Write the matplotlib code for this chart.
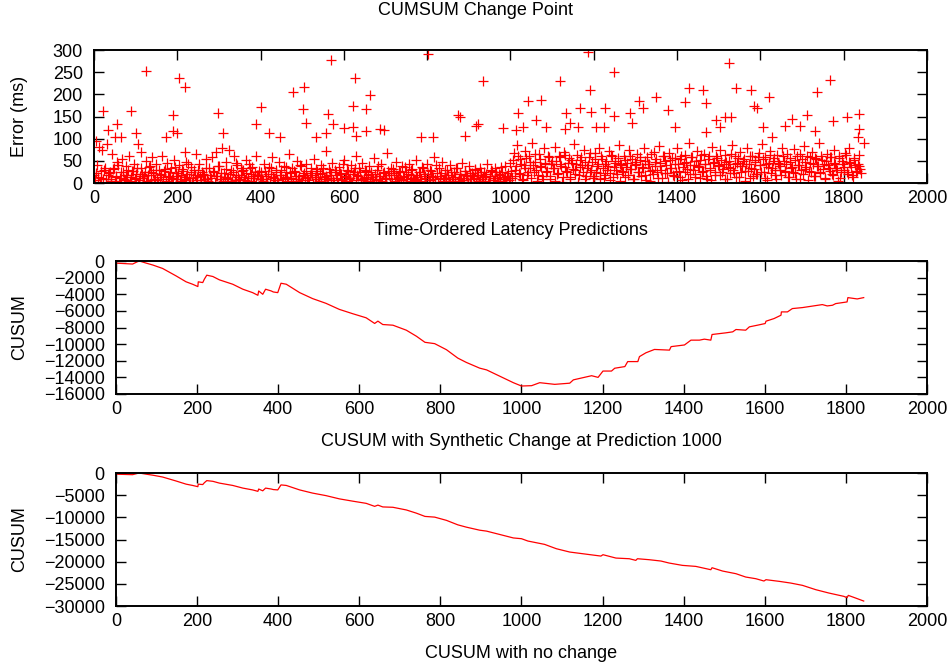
import matplotlib
matplotlib.use('Agg')
import matplotlib.pyplot as plt
import numpy as np

plt.rcParams['font.family'] = ['Liberation Sans', 'DejaVu Sans']
plt.rcParams['font.size'] = 13

# error scatter: dense band, one value every 4 predictions
band_a = [18, 95, 40, 82, 12, 75, 30, 8, 88, 22,
          5, 65, 35, 14, 48, 3, 26, 55, 9, 38,
          17, 60, 2, 28, 44, 11, 33, 6, 70, 20,
          15, 50, 4, 36, 25, 58, 10, 42, 7, 30,
          19, 62, 27, 1, 45, 13, 34, 9, 52, 23,
          16, 40, 5, 31, 8, 47, 21, 12, 37, 2,
          29, 66, 14, 43, 6, 24, 18, 55, 10, 35,
          3, 58, 26, 70, 15, 38, 8, 80, 22, 48,
          12, 74, 30, 5, 62, 19, 40, 9, 33, 27,
          14, 52, 4, 44, 21, 36, 11, 60, 17, 28]
band_b = [25, 8, 42, 15, 3, 36, 20, 58, 11, 30,
          6, 47, 18, 2, 39, 24, 12, 65, 9, 33,
          27, 4, 50, 16, 38, 7, 22, 44, 13, 1,
          35, 19, 55, 10, 28, 5, 41, 23, 14, 72,
          8, 31, 17, 46, 3, 26, 12, 37, 21, 6,
          53, 15, 29, 9, 40, 2, 24, 61, 18, 33,
          7, 45, 11, 27, 4, 38, 20, 14, 56, 8,
          30, 16, 43, 5, 25, 12, 68, 19, 34, 3,
          22, 48, 10, 28, 6, 39, 15, 24, 2, 44,
          17, 31, 9, 52, 13, 26, 4, 36, 21, 11,
          42, 7, 29, 16, 58, 3, 23, 35, 12, 47,
          8, 19, 30, 5, 40, 14, 25, 2, 33, 10,
          20, 45, 6, 27, 15, 38, 3, 22, 11, 30,
          18, 5, 35, 9, 24, 13, 42, 2, 16, 28,
          7, 33, 12, 20, 4, 26, 10, 38, 15, 6]
band_c = [45, 12, 68, 30, 85, 22, 55, 8, 40, 72,
          18, 60, 35, 90, 26, 48, 5, 66, 38, 15,
          78, 42, 28, 58, 10, 50, 33, 82, 20, 62,
          44, 3, 70, 36, 24, 56, 14, 46, 88, 30,
          64, 19, 52, 40, 75, 8, 34, 58, 26, 48,
          16, 68, 38, 80, 22, 54, 12, 44, 30, 72,
          6, 60, 36, 50, 20, 86, 42, 28, 62, 14,
          46, 74, 32, 55, 9, 40, 66, 24, 52, 36,
          78, 18, 58, 44, 4, 30, 70, 48, 26, 84,
          38, 12, 62, 50, 22, 68, 34, 56, 16, 42,
          80, 28, 54, 7, 46, 64, 32, 90, 20, 58,
          40, 14, 72, 36, 52, 24, 66, 44, 10, 60,
          30, 82, 48, 18, 56, 38, 74, 26, 42, 64,
          8, 50, 34, 86, 22, 60, 46, 14, 70, 38,
          54, 28, 78, 44, 12, 62, 32, 52, 20, 68,
          40, 88, 26, 58, 6, 46, 72, 34, 56, 18,
          64, 42, 30, 80, 50, 24, 66, 14, 48, 36,
          76, 22, 60, 40, 10, 54, 84, 32, 62, 28,
          46, 70, 16, 56, 38, 90, 26, 52, 44, 8,
          66, 34, 58, 20, 74, 42, 30, 62, 12, 50,
          36, 68, 24, 80, 46, 18, 56, 40, 28, 64,
          32]
# second band, offset by 2 predictions (the low, crowded part)
band2_a = [6, 22, 14, 3, 28, 10, 35, 1, 18, 25,
           9, 31, 4, 16, 40, 12, 2, 24, 7, 19,
           30, 5, 13, 27, 8, 21, 0, 15, 33, 11,
           26, 3, 17, 38, 6, 23, 10, 29, 2, 14,
           20, 8, 32, 5, 16, 25, 1, 12, 36, 9,
           22, 4, 18, 28, 7, 13, 42, 3, 24, 11,
           17, 6, 30, 15, 2, 21, 9, 34, 5, 19,
           12, 27, 1, 16, 38, 8, 23, 4, 14, 31,
           10, 20, 3, 26, 7, 45, 13, 2, 18, 29,
           6, 22, 11, 35, 4, 15, 25, 1, 19, 9]
band2_b = [16, 4, 27, 10, 21, 2, 33, 13, 7, 24,
           1, 18, 30, 8, 14, 37, 5, 22, 11, 3,
           26, 15, 9, 40, 2, 19, 12, 28, 6, 17,
           23, 0, 13, 31, 8, 20, 4, 35, 10, 15,
           3, 25, 12, 7, 29, 18, 1, 22, 9, 43,
           14, 5, 27, 11, 2, 20, 34, 6, 16, 24,
           9, 1, 30, 13, 18, 4, 26, 10, 21, 7,
           38, 15, 3, 23, 12, 8, 28, 0, 17, 32,
           5, 19, 11, 25, 2, 14, 36, 8, 21, 4,
           29, 12, 6, 18, 1, 24, 10, 33, 15, 3,
           20, 7, 27, 13, 9, 41, 2, 16, 22, 5,
           30, 11, 18, 1, 25, 8, 14, 35, 4, 20,
           12, 6, 28, 17, 2, 23, 10, 15, 31, 3,
           19, 8, 26, 13, 5, 21, 1, 16, 29, 7,
           11, 24, 4, 18, 37, 9, 14, 2, 22, 12]
band2_c = [28, 52, 15, 38, 62, 20, 44, 6, 33, 56,
           24, 48, 12, 40, 66, 30, 18, 54, 36, 9,
           46, 26, 60, 16, 42, 34, 4, 50, 22, 58,
           38, 14, 64, 28, 46, 10, 52, 32, 20, 44,
           2, 36, 58, 24, 48, 16, 40, 68, 30, 12,
           54, 26, 42, 8, 60, 34, 18, 50, 38, 22,
           64, 14, 46, 30, 56, 4, 40, 26, 52, 36,
           18, 62, 32, 10, 48, 42, 24, 58, 16, 34,
           50, 6, 44, 28, 66, 20, 38, 54, 12, 46,
           30, 60, 22, 40, 2, 52, 34, 18, 56, 26,
           44, 14, 62, 36, 24, 48, 8, 40, 58, 30,
           20, 50, 38, 12, 64, 28, 44, 16, 54, 34,
           6, 46, 26, 60, 40, 18, 52, 32, 10, 48,
           36, 22, 66, 30, 44, 14, 56, 38, 24, 50,
           4, 42, 28, 62, 34, 16, 48, 20, 58, 40,
           26, 54, 12, 44, 36, 64, 22, 50, 30, 8,
           46, 38, 18, 60, 28, 42, 14, 56, 34, 24,
           52, 10, 40, 66, 30, 20, 48, 36, 6, 58,
           26, 44, 16, 54, 38, 22, 62, 32, 12, 50,
           40, 28, 58, 18, 46, 34, 4, 56, 24, 42,
           30, 64, 20, 48, 36, 14, 52, 26, 44, 38,
           22]
band_y = band_a + band_b + band_c
band_x = list(range(0, 4 * len(band_y), 4))
band2_y = band2_a + band2_b + band2_c
band2_x = list(range(2, 4 * len(band2_y) + 2, 4))

# the large errors read one by one
out_x = [22, 34, 50, 56, 64, 90, 102, 106, 125, 174, 190, 190, 200, 204, 218, 218,
         298, 310, 390, 401, 421, 447, 478, 501, 505, 508, 534, 557, 562, 569, 574,
         600, 622, 622, 626, 628, 654, 654, 662, 686, 696, 785, 802, 814, 874, 880,
         892, 918, 922, 934, 982, 1014, 1018, 1030, 1042, 1062, 1074, 1086, 1120,
         1130, 1134, 1142, 1162, 1166, 1186, 1192, 1194, 1205, 1224, 1226, 1248,
         1248, 1286, 1293, 1309, 1318, 1350, 1379, 1394, 1418, 1429, 1462, 1469,
         1470, 1494, 1502, 1514, 1524, 1530, 1542, 1577, 1585, 1593, 1606, 1621,
         1627, 1660, 1677, 1694, 1713, 1730, 1737, 1766, 1774, 1809, 1835, 1837,
         1838, 1849]
out_y = [162, 120, 103, 133, 103, 163, 113, 88, 253, 105, 117, 153, 113, 238, 216, 71,
         159, 113, 133, 172, 113, 103, 205, 168, 216, 136, 103, 112, 156, 278, 133,
         124, 126, 174, 236, 106, 167, 117, 199, 122, 120, 105, 291, 103, 153, 150,
         107, 129, 133, 230, 125, 119, 157, 127, 185, 142, 188, 127, 230,
         123, 157, 135, 127, 170, 296, 211, 160, 127, 127, 170, 251,
         152, 157, 135, 186, 169, 195, 165, 127, 183, 215, 210, 180,
         115, 142, 127, 150, 272, 150, 215, 210, 174, 170, 126, 195,
         103, 128, 144, 128, 153, 118, 206, 232, 139, 150, 103, 122,
         155, 91]

# cusum, common part up to the synthetic change
early_x = [0, 41, 53, 58, 74, 91, 115, 148, 173, 189, 202, 203, 214, 218, 224, 239,
           255, 288, 313, 337, 350, 352, 362, 369, 383, 388, 399, 407, 420, 453, 485,
           518, 551, 584, 617, 638, 646, 658, 683, 716, 741, 762, 786, 815, 843, 864,
           897, 914, 980]
early_y = [-250, -360, -80, 0, -240, -480, -890, -1780, -2500, -2790, -3070, -2500,
           -2590, -2180, -1700, -1860, -2260, -2790, -3390, -3800, -4120, -3600, -4000,
           -3390, -3600, -3720, -3800, -2670, -2790, -3800, -4520, -5090, -5820, -6340,
           -6830, -7510, -7230, -7640, -7720, -8320, -9050, -9780, -9940, -10670,
           -11680, -12200, -12890, -13100, -14640]

syn_x = [1000, 1025, 1045, 1082, 1119, 1128, 1173, 1189, 1201, 1222, 1230, 1255, 1262,
         1287, 1291, 1307, 1328, 1365, 1369, 1402, 1418, 1439, 1451, 1467, 1470, 1504,
         1521, 1529, 1553, 1562, 1582, 1601, 1603, 1623, 1640, 1641, 1656, 1668, 1693,
         1742, 1754, 1767, 1775, 1803, 1805, 1828, 1844]
syn_y = [-15040, -15000, -14640, -14840, -14700, -14300, -13800, -14000, -13240,
         -13240, -12900, -12700, -12100, -12100, -11500, -11040, -10640, -10720,
         -10300, -10100, -9520, -9520, -9400, -9520, -8840, -8640, -8520, -8240,
         -8320, -7920, -7720, -7520, -7240, -6920, -6520, -6120, -6120, -5720, -5600,
         -5240, -5400, -5320, -5120, -4920, -4400, -4560, -4400]

none_x = [1000, 1016, 1057, 1086, 1119, 1151, 1196, 1201, 1233, 1266, 1282, 1286, 1315,
          1344, 1364, 1397, 1430, 1467, 1470, 1496, 1529, 1553, 1578, 1598, 1603, 1636,
          1664, 1693, 1726, 1758, 1795, 1803, 1806, 1824, 1844]
none_y = [-14810, -15340, -16090, -17070, -17820, -18200, -18730, -18420, -19180,
          -19330, -19700, -19330, -19550, -19850, -20300, -20830, -21060, -21810,
          -21360, -22110, -22710, -23460, -23840, -24360, -24060, -24440, -24820,
          -25340, -26320, -27070, -27820, -28120, -27600, -28200, -28880]


def style_axes(ax, ymin, ymax, ystep, ylab_x):
    ax.set_xlim(0, 2000)
    ax.set_ylim(ymin, ymax)
    ax.set_xticks(np.arange(0, 2001, 200))
    ax.set_yticks(np.arange(ymin, ymax + 1, ystep))
    ax.tick_params(direction='in', top=True, right=True, length=7, width=1,
                   labelsize=13)
    ax.tick_params(axis='x', pad=5)
    ax.tick_params(axis='y', pad=8)
    for s in ax.spines.values():
        s.set_linewidth(1.4)
    ax.xaxis.set_label_coords(0.5, -0.29)
    ax.yaxis.set_label_coords(ylab_x, 0.5)


fig = plt.figure(figsize=(9.52, 6.68), dpi=100)

ax1 = fig.add_axes([0.0987, 0.726, 0.875, 0.199])
ax1.plot(band_x, band_y, '+', color='red', markersize=7, markeredgewidth=0.9)
ax1.plot(band2_x, band2_y, '+', color='red', markersize=7, markeredgewidth=0.9)
ax1.plot(out_x, out_y, '+', color='red', markersize=7, markeredgewidth=0.9)
ax1.set_xlabel('Time-Ordered Latency Predictions')
ax1.set_ylabel('Error (ms)')
style_axes(ax1, 0, 300, 50, -0.079)
fig.text(0.499, 0.985, 'CUMSUM Change Point', ha='center', va='center', fontsize=13)

ax2 = fig.add_axes([0.1218, 0.4102, 0.8519, 0.199])
ax2.plot(early_x + syn_x, early_y + syn_y, color='red', linewidth=0.9)
ax2.set_xlabel('CUSUM with Synthetic Change at Prediction 1000')
ax2.set_ylabel('CUSUM')
style_axes(ax2, -16000, 0, 2000, -0.108)

ax3 = fig.add_axes([0.1218, 0.0928, 0.8519, 0.199])
ax3.plot(early_x + none_x, early_y + none_y, color='red', linewidth=0.9)
ax3.set_xlabel('CUSUM with no change')
ax3.set_ylabel('CUSUM')
style_axes(ax3, -30000, 0, 5000, -0.108)

fig.savefig('out.png', dpi=100)
